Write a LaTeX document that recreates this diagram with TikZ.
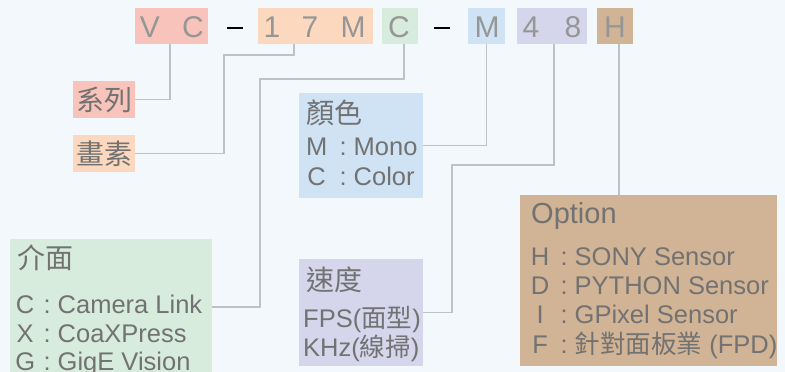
\documentclass[tikz,border=0pt]{standalone}
\usepackage{fontspec}
\setmainfont{Liberation Sans}
\newfontfamily\cjk{Noto Sans CJK TC}
\usetikzlibrary{calc}
\definecolor{bg}{HTML}{F3F8FC}
\definecolor{cVC}{HTML}{F7C3BB}
\definecolor{cPX}{HTML}{FCD9BE}
\definecolor{cIF}{HTML}{D7ECDC}
\definecolor{cCL}{HTML}{D0E3F5}
\definecolor{cSP}{HTML}{D5D6EC}
\definecolor{cOP}{HTML}{D1B395}
\definecolor{lineg}{HTML}{BEC2C6}
\definecolor{topgray}{HTML}{969696}
\definecolor{txtgray}{HTML}{727272}
\newcommand\crow[3]{\makebox[#1][c]{#2}\makebox[21pt][c]{:}#3}
\begin{document}
\begin{tikzpicture}[x=1pt,y=-1pt,
  box/.style={draw=none, inner sep=0pt, outer sep=0pt, rectangle},
  conn/.style={draw=lineg, line width=1.2pt},
  toplet/.style={anchor=base, inner sep=0pt, text=topgray, font=\fontsize{30}{30}\selectfont},
  txt/.style={anchor=base west, inner sep=0pt, text=txtgray, font=\fontsize{25.5}{26}\selectfont},
  ttl/.style={anchor=base west, inner sep=0pt, text=txtgray, font=\fontsize{28}{28}\selectfont\cjk},
  lab/.style={box, text=txtgray, font=\fontsize{28}{28}\selectfont\cjk},
  dashbar/.style={box, fill=black, minimum width=16pt, minimum height=1.8pt},
]
\useasboundingbox (0,0) rectangle (785,372);
\fill[bg] (0,0) rectangle (785,372);

% code boxes
\node[box, fill=cVC, minimum width=73pt, minimum height=36pt] (vc) at (171.5,26) {};
\node[box, fill=cPX, minimum width=115pt, minimum height=36pt] (px) at (315.5,26) {};
\node[box, fill=cIF, minimum width=36pt, minimum height=36pt] (cb) at (400,26) {};
\node[box, fill=cCL, minimum width=37pt, minimum height=36pt] (mb) at (486.5,26) {};
\node[box, fill=cSP, minimum width=70pt, minimum height=36pt] (sd) at (552,26) {};
\node[box, fill=cOP, minimum width=36pt, minimum height=36pt] (hb) at (615,26) {};
\node[dashbar] (d1) at (235,28) {};
\node[dashbar] (d2) at (442,28) {};

\node[toplet] (l1) at (150,37) {V};
\node[toplet] (l2) at (193,37) {C};
\node[toplet] (l3) at (272,37) {1};
\node[toplet] (l4) at (310,37) {7};
\node[toplet] (l5) at (353,37) {M};
\node[toplet] (l6) at (399,37) {C};
\node[toplet] (l7) at (487,37) {M};
\node[toplet] (l8) at (531,37) {4};
\node[toplet] (l9) at (573,37) {8};
\node[toplet] (l10) at (615,37) {H};

% label boxes
\node[lab, fill=cVC, minimum width=62pt, minimum height=37pt] (xilie) at (104,99.5) {系列};
\node[lab, fill=cPX, minimum width=62pt, minimum height=37pt] (huasu) at (104,153.5) {畫素};
\node[box, fill=cCL, minimum width=124pt, minimum height=105pt] (yanse) at (361,145.5) {};
\node[box, fill=cIF, minimum width=202pt, minimum height=136pt] (jiemian) at (111,307) {};
\node[box, fill=cSP, minimum width=124pt, minimum height=107pt] (sudu) at (361,312.5) {};
\node[box, fill=cOP, minimum width=257pt, minimum height=171pt] (opt) at (648.5,280.5) {};

% texts
\node[ttl] (t1) at (306,123) {顏色};
\node[txt] (t1a) at (300.5,155) {\crow{32pt}{M}{Mono}};
\node[txt] (t1b) at (300.5,185) {\crow{32pt}{C}{Color}};

\node[ttl] (t2) at (17,268) {介面};
\node[txt] (t2a) at (13.5,313) {\crow{23pt}{C}{Camera Link}};
\node[txt] (t2b) at (13.5,342) {\crow{23pt}{X}{CoaXPress}};
\node[txt] (t2c) at (13.5,370) {\crow{23pt}{G}{GigE Vision}};

\node[ttl] (t3) at (306,290) {速度};
\node[txt] (t3a) at (303,327) {FPS({\cjk 面型})};
\node[txt] (t3b) at (303,356) {KHz({\cjk 線掃})};

\node[txt, font=\fontsize{29}{29}\selectfont] (t4) at (531,223) {Option};
\node[txt] (t4a) at (526.5,265) {\crow{27pt}{H}{SONY Sensor}};
\node[txt] (t4b) at (526.5,294.5) {\crow{27pt}{D}{PYTHON Sensor}};
\node[txt] (t4c) at (526.5,323.5) {\crow{27pt}{I}{GPixel Sensor}};
\node[txt] (t4d) at (526.5,353) {\crow{27pt}{F}{{\cjk 針對面板業} (FPD)}};

% bend points
\coordinate (b1) at (224,55);
\coordinate (b2) at (260,79);
\coordinate (b3) at (452,165);

% connectors
\draw[conn] ([xshift=-1.5pt]vc.south) |- (xilie.east);
\draw[conn] ([xshift=36pt]px.south west) |- (b1) |- (huasu.east);
\draw[conn] ([xshift=4pt]cb.south) |- (b2) |- (jiemian.east);
\draw[conn] (mb.south) |- (yanse.east);
\draw[conn] ([xshift=2pt]sd.south) |- (b3) |- (sudu.east);
\draw[conn] ([xshift=4pt]hb.south) -- ([xshift=4pt]hb.south |- opt.north);
\end{tikzpicture}
\end{document}
